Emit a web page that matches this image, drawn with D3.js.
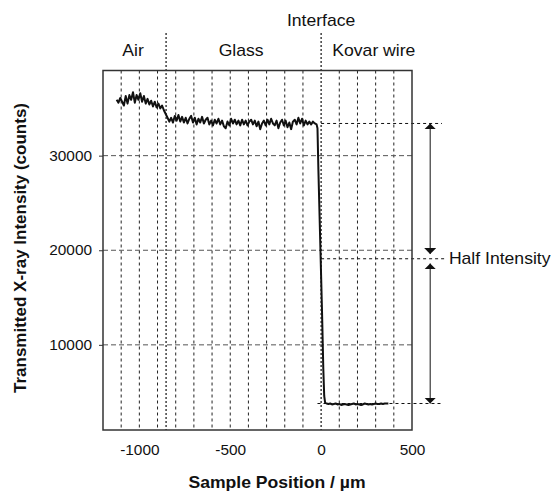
<!DOCTYPE html>
<html>
<head>
<meta charset="utf-8">
<script src="https://cdn.jsdelivr.net/npm/d3@7"></script>
<style>
  body { margin: 0; background: #fff; }
  text { font-family: "Liberation Sans", Arial, sans-serif; fill: #111; }
</style>
</head>
<body>
<div id="chart"></div>
<script>
// size of the page and of the plot box
var svgWidth = 555;
var svgHeight = 493;
var plot = { left: 103, right: 412, top: 70.5, bottom: 430 };
var sx = 1.1; // text in the picture looks a bit wider than tall

// ---- data ----
// air part (left of the glass)
var airPos = [-1125, -1115, -1105, -1095, -1085, -1075, -1065, -1055, -1045, -1035,
    -1025, -1015, -1005, -995, -985, -975, -965, -955, -945, -935,
    -925, -915, -905, -895, -885, -875, -865, -855];
var airCounts = [35900, 35600, 36100, 35700, 35300, 36300, 35500, 36400, 35900, 36700,
    35600, 36400, 35900, 36600, 35700, 36300, 35500, 36000, 35400, 35800,
    35200, 35700, 35100, 35500, 35000, 35300, 34800, 34400];
// glass part
var glassPos = [-845, -835, -825, -815, -805, -795, -785, -775, -765, -755,
    -745, -735, -725, -715, -705, -695, -685, -675, -665, -655,
    -645, -635, -625, -615, -605, -595, -585, -575, -565, -555,
    -545, -535, -525, -515, -505, -495, -485, -475, -465, -455,
    -445, -435, -425, -415, -405, -395, -385, -375, -365, -355,
    -345, -335, -325, -315, -305, -295, -285, -275, -265, -255,
    -245, -235, -225, -215, -205, -195, -185, -175, -165, -155,
    -145, -135, -125, -115, -105, -95, -85, -75, -65, -55,
    -45, -35, -25];
var glassCounts = [34000, 33600, 34000, 33500, 34200, 33700, 34300, 33600, 34100, 33500,
    34000, 33400, 33900, 34200, 33500, 34000, 33300, 33900, 33500, 34100,
    33400, 33800, 34000, 33300, 33700, 33200, 33800, 33400, 33900, 33300,
    33700, 33100, 32900, 33600, 33200, 33900, 33400, 33800, 33300, 33700,
    33200, 33800, 33300, 33700, 33200, 33600, 33800, 33300, 33700, 33100,
    33600, 32800, 33400, 33700, 33200, 33800, 33300, 33900, 33400, 33200,
    33700, 32900, 33500, 33800, 33200, 33700, 33000, 33500, 32800, 33600,
    33800, 33300, 34000, 33400, 33900, 33200, 33700, 33300, 33600, 33300,
    33600, 33400, 33300];
// the edge at the interface
var edgePos = [-20, -15, -5, 5, 12, 17, 22, 30];
var edgeCounts = [32900, 28500, 21000, 13500, 7500, 4600, 3900, 3800];
// kovar wire part
var wirePos = [40, 50, 60, 70, 80, 90, 100, 110, 120, 130,
    140, 150, 160, 170, 180, 190, 200, 210, 220, 230,
    240, 250, 260, 270, 280, 290, 300, 310, 320, 330,
    340, 350, 360, 370];
var wireCounts = [3750, 3800, 3700, 3750, 3800, 3700, 3750, 3650, 3700, 3750,
    3700, 3650, 3700, 3750, 3800, 3700, 3750, 3700, 3650, 3700,
    3800, 3750, 3700, 3750, 3700, 3750, 3800, 3750, 3750, 3800,
    3750, 3800, 3800, 3800];

// axis ticks and grid
var xTicks = [-1000, -500, 0, 500];
var yTicks = [10000, 20000, 30000];
var xGrid = [-1100, -1000, -900, -800, -700, -600, -500, -400, -300, -200, -100, 100, 200, 300, 400];
// region borders and labels
var borders = [-853, 0];
var regionNames = ["Air", "Glass", "Kovar wire"];
var regionCenters = [-1035, -440, 290];
// reference levels: top, half, bottom
var levelTop = 33400;
var levelHalf = 19100;
var levelLow = 3800;

// put all the pieces of the scan together
var data = [];
[[airPos, airCounts], [glassPos, glassCounts], [edgePos, edgeCounts], [wirePos, wireCounts]]
    .forEach(function(part) {
        part[0].forEach(function(p, i) {
            data.push({ pos: p, counts: part[1][i] });
        });
    });

var svg = d3.select("#chart")
    .append("svg")
    .attr("width", svgWidth)
    .attr("height", svgHeight);

var x = d3.scaleLinear().domain([-1200, 500]).range([plot.left, plot.right]);
var y = d3.scaleLinear().domain([1000, 39000]).range([plot.bottom, plot.top]);

// arrow heads
var defs = svg.append("defs");
defs.append("marker")
    .attr("id", "head")
    .attr("viewBox", "0 0 10 10")
    .attr("refX", 10).attr("refY", 5)
    .attr("markerUnits", "userSpaceOnUse")
    .attr("markerWidth", 6).attr("markerHeight", 12)
    .attr("orient", "auto-start-reverse")
    .attr("preserveAspectRatio", "none")
    .append("path")
    .attr("d", "M0,0 L10,5 L0,10 Z")
    .attr("fill", "#111");

// vertical grid, short dashes
svg.append("g").selectAll("line")
    .data(xGrid)
    .enter().append("line")
    .attr("x1", d => x(d)).attr("x2", d => x(d))
    .attr("y1", plot.top).attr("y2", plot.bottom)
    .attr("stroke", "#222")
    .attr("stroke-width", 1)
    .attr("stroke-dasharray", "3,3");

// horizontal grid, longer dashes
svg.append("g").selectAll("line")
    .data(yTicks)
    .enter().append("line")
    .attr("x1", plot.left).attr("x2", plot.right)
    .attr("y1", d => y(d)).attr("y2", d => y(d))
    .attr("stroke", "#555")
    .attr("stroke-width", 1)
    .attr("stroke-dasharray", "5,3");

// borders between the regions, they go above the box
svg.append("g").selectAll("line")
    .data(borders)
    .enter().append("line")
    .attr("x1", d => x(d)).attr("x2", d => x(d))
    .attr("y1", 33).attr("y2", plot.bottom)
    .attr("stroke", "#111")
    .attr("stroke-width", 1.2)
    .attr("stroke-dasharray", "2,2");

// level lines going out to the right
var levels = [
    { v: levelTop, from: 0, to: 665 },
    { v: levelHalf, from: 0, to: 680 },
    { v: levelLow, from: -20, to: 665 }
];
svg.append("g").selectAll("line")
    .data(levels)
    .enter().append("line")
    .attr("x1", d => x(d.from)).attr("x2", d => x(d.to))
    .attr("y1", d => y(d.v)).attr("y2", d => y(d.v))
    .attr("stroke", "#111")
    .attr("stroke-width", 1)
    .attr("stroke-dasharray", "3,3");

// frame of the plot
svg.append("rect")
    .attr("x", plot.left).attr("y", plot.top)
    .attr("width", plot.right - plot.left)
    .attr("height", plot.bottom - plot.top)
    .attr("fill", "none")
    .attr("stroke", "#333")
    .attr("stroke-width", 1.5);

// the scan line
var line = d3.line()
    .x(d => x(d.pos))
    .y(d => y(d.counts));
svg.append("path")
    .datum(data)
    .attr("d", line)
    .attr("fill", "none")
    .attr("stroke", "#111")
    .attr("stroke-width", 2)
    .attr("stroke-linejoin", "round");

// arrows for the half intensity
var arrowX = 600;
var gap = 500;
[[levelTop, levelHalf + gap], [levelHalf - gap, levelLow]].forEach(function(a) {
    svg.append("line")
        .attr("x1", x(arrowX)).attr("x2", x(arrowX))
        .attr("y1", y(a[0])).attr("y2", y(a[1]))
        .attr("stroke", "#111")
        .attr("stroke-width", 1)
        .attr("marker-start", "url(#head)")
        .attr("marker-end", "url(#head)");
});

// axes, only the labels (frame is the rect)
var xAxis = svg.append("g")
    .attr("transform", `translate(0, ${plot.bottom})`)
    .call(d3.axisBottom(x).tickValues(xTicks).tickSize(0).tickPadding(15).tickFormat(d => String(d)));
xAxis.select(".domain").remove();
xAxis.selectAll("text")
    .style("font-size", "14px")
    .attr("transform", `scale(${sx},1)`);

var yAxis = svg.append("g")
    .attr("transform", `translate(${plot.left}, 0)`)
    .call(d3.axisLeft(y).tickValues(yTicks).tickSize(4).tickPadding(7).tickFormat(d => String(d)));
yAxis.select(".domain").remove();
yAxis.selectAll("line").attr("stroke", "#333");
yAxis.selectAll("text")
    .style("font-size", "14px")
    .attr("x", -11 / sx)
    .attr("transform", `scale(${sx},1)`);

// helper for wider text
function label(px, py, txt, size, anchor, bold) {
    return svg.append("text")
        .attr("transform", `translate(${px}, ${py}) scale(${sx},1)`)
        .attr("text-anchor", anchor)
        .style("font-size", size + "px")
        .style("font-weight", bold ? "bold" : "normal")
        .text(txt);
}

regionNames.forEach(function(n, i) {
    label(x(regionCenters[i]), 56, n, 16, "middle", false);
});
label(x(0), 26, "Interface", 16, "middle", false);
label(x(703), y(levelHalf) + 5.5, "Half Intensity", 16, "start", false);

// axis titles
label(277, 488, "Sample Position / \u00b5m", 16, "middle", true);
svg.append("text")
    .attr("transform", "translate(26, 248) rotate(-90)")
    .attr("text-anchor", "middle")
    .style("font-size", "17px")
    .style("font-weight", "bold")
    .text("Transmitted X-ray Intensity (counts)");
</script>
</body>
</html>
